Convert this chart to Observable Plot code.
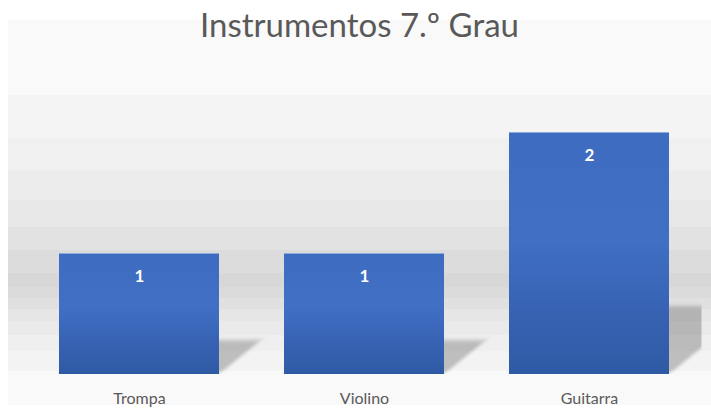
<!DOCTYPE html>
<html>
<head>
<meta charset="utf-8">
<script src="https://cdn.jsdelivr.net/npm/d3@7"></script>
<script src="https://cdn.jsdelivr.net/npm/@observablehq/plot@0.6"></script>
<style>
  html, body { margin: 0; padding: 0; background: #ffffff; }
  #wrap { position: relative; width: 711px; height: 410px; overflow: hidden; }
  #bg {
    position: absolute; left: 8px; top: 20px; width: 703px; height: 385px;
    background: linear-gradient(to bottom,
      #f9f9f9 0px, #f9f9f9 75px,
      #f4f4f4 75px, #f4f4f4 118px,
      #f0f0f0 118px, #f0f0f0 150px,
      #ececec 150px, #ececec 180px,
      #e7e7e7 180px, #e7e7e7 207px,
      #e2e2e2 207px, #e2e2e2 230px,
      #dcdcdc 230px, #dcdcdc 253px,
      #d7d7d7 253px, #d7d7d7 267px,
      #dbdbdb 267px, #dbdbdb 278px,
      #e0e0e0 278px, #e0e0e0 289px,
      #e6e6e6 289px, #e6e6e6 301px,
      #eaeaea 301px, #eaeaea 315px,
      #efefef 315px, #efefef 331px,
      #f3f3f3 331px, #f3f3f3 351px,
      #f9f9f9 351px, #f9f9f9 385px);
  }
  #title {
    position: relative; height: 50px; box-sizing: border-box; padding-top: 5px; padding-left: 8px;
    font-family: Lato, "Open Sans", sans-serif; font-size: 33px; line-height: 38px;
    color: #595959; text-align: center;
  }
  #chart { position: relative; }
  #chart svg { display: block; background: transparent; }
</style>
</head>
<body>
<div id="wrap">
  <div id="bg"></div>
  <div id="title">Instrumentos 7.º Grau</div>
  <div id="chart"></div>
</div>
<script>
const categories = ["Trompa", "Violino", "Guitarra"];
const values = [1, 1, 2];
const shadowRatio = 0.28;

const data = categories.map((c, i) => ({instrument: c, count: values[i]}));

const chart = Plot.plot({
  width: 711,
  height: 360,
  marginLeft: 26.5,
  marginRight: 9.5,
  marginTop: 21.5,
  marginBottom: 36,
  style: {background: "transparent", fontFamily: "Lato, 'Open Sans', sans-serif", fontSize: "16px", color: "#595959"},
  x: {domain: categories, paddingInner: 0.289, paddingOuter: 0.1444, label: null},
  y: {domain: [0, 2.5], axis: null},
  marks: [
    Plot.barY(data, {x: "instrument", y: d => d.count * shadowRatio, fill: "#000", fillOpacity: 0.22, clip: true}),
    Plot.barY(data, {x: "instrument", y: "count", fill: "url(#barGrad)"}),
    Plot.tickY(data, {x: "instrument", y: "count", stroke: "#8eaadc", strokeWidth: 1.2}),
    Plot.text(data, {x: "instrument", y: "count", text: d => String(d.count), dy: 23, fill: "#ffffff", fontWeight: "bold", fontSize: 17}),
    Plot.axisX({tickSize: 0, tickPadding: 18, fontSize: 16, fill: "#595959", label: null})
  ]
});

const svg = d3.select(chart);
const defs = svg.insert("defs", ":first-child");
const grad = defs.append("linearGradient").attr("id", "barGrad").attr("x1", 0).attr("y1", 0).attr("x2", 0).attr("y2", 1);
grad.append("stop").attr("offset", "0%").attr("stop-color", "#3d6cc1");
grad.append("stop").attr("offset", "45%").attr("stop-color", "#406fc3");
grad.append("stop").attr("offset", "75%").attr("stop-color", "#3762b3");
grad.append("stop").attr("offset", "100%").attr("stop-color", "#2e5aa4");
const blur = defs.append("filter").attr("id", "shadowBlur").attr("x", "-50%").attr("y", "-50%").attr("width", "200%").attr("height", "200%");
blur.append("feGaussianBlur").attr("stdDeviation", 2.5);

const y0 = chart.scale("y").apply(0);
// the first rect group rendered is the shadow layer
const shadowRects = svg.selectAll("rect").filter(function () {
  const f = this.getAttribute("fill") || (this.parentNode && this.parentNode.getAttribute("fill"));
  return f === "#000" || f === "black" || f === "rgb(0, 0, 0)";
});
shadowRects
  .attr("transform", `translate(0,${y0}) skewX(-51) translate(0,${-y0})`)
  .attr("filter", "url(#shadowBlur)");

document.getElementById("chart").appendChild(chart);
</script>
</body>
</html>
